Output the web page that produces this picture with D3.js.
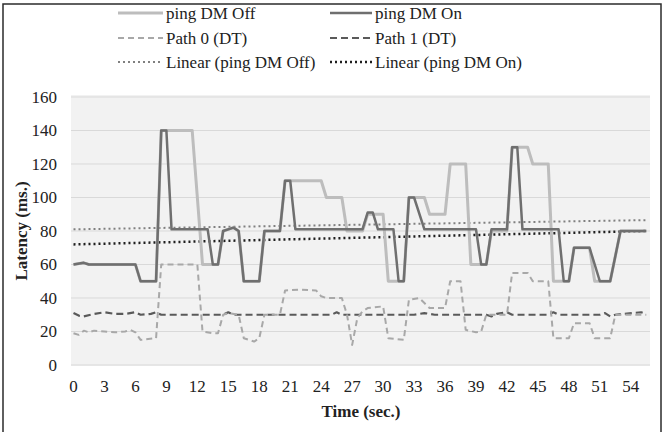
<!DOCTYPE html>
<html>
<head>
<meta charset="utf-8">
<script src="https://cdn.jsdelivr.net/npm/d3@7"></script>
<style>
html,body{margin:0;padding:0;background:#fff;}
svg{display:block;}
svg text{font-family:'Liberation Serif','Times New Roman',Times,serif;}
</style>
</head>
<body>
<svg id="chart" width="665" height="432"></svg>
<script>
// ---- data (time in seconds, latency in ms) ----
const xTicks = [0,3,6,9,12,15,18,21,24,27,30,33,36,39,42,45,48,51,54];
const yTicks = [0,20,40,60,80,100,120,140,160];

const offTime = [0,1,1.5,6,6.5,8,8.5,11.5,12.5,14,14.5,15.5,16,16.5,18,18.5,20,20.5,24,24.5,26,26.5,28,28.5,30,30.5,32,32.5,34,34.5,36,36.5,38,38.5,40,40.5,42,42.5,44,44.5,46,46.5,48,48.5,50,50.5,52,53,55.5];
const offVal  = [60,61,60,60,50,50,140,140,60,60,80,82,80,50,50,80,80,110,110,100,100,80,80,90,90,50,50,100,100,90,90,120,120,60,60,80,80,130,130,120,120,50,50,70,70,50,50,80,80];

const onTime = [0,1,1.5,6,6.5,8,8.5,9,9.5,13,13.5,14,14.5,15.5,16,16.5,18,18.5,20,20.5,21,21.5,28,28.5,29,29.5,31,31.5,32,32.5,33,34,39,39.5,40,40.5,42,42.5,43,43.5,47,47.5,48,48.5,50,51,52,53,55.5];
const onVal  = [60,61,60,60,50,50,140,140,81,81,60,60,80,82,80,50,50,80,80,110,110,81,81,91,91,81,81,50,50,100,100,81,81,60,60,81,81,130,130,81,81,50,50,70,70,50,50,80,80];

const path0Time = [0,0.5,1,1.5,2,3,4,5,5.5,6,6.5,8,8.5,12,12.5,13.5,14,14.5,15,16,16.5,17.5,18,18.5,20,20.5,22,23.5,24,24.5,26,26.5,27,27.5,28,28.5,30,30.5,32,32.5,33.5,34,34.5,36,36.5,37.5,38,39,39.5,40,42,42.5,44,44.5,46,46.5,48,48.5,50,50.5,52,52.5,55.5];
const path0Val  = [19,18,20.5,19.5,20.5,20,19.5,20,21,19.5,15,16,60,60,20,19,19,30,31,30,16,14,16,30,30,44.5,45,44.5,41,40,40,30,12,28,32,34,35,16,15,39,40,37,34,34,50,50,21,19.5,20,30,30,55,55,50,50,16,16,25,25,16,16,30,30];

const path1Time = [0,0.5,1,2,3,4,5,6,6.5,7.5,8,8.5,14.5,15,15.5,25,25.5,26,33,34,35,40,40.5,41,42,42.5,46,46.5,47,51,51.5,52,52.5,55,55.5];
const path1Val  = [31,29.5,29,30.5,31.5,30.5,30.5,31.5,30,30.5,31.5,30,30,31.5,30,30,31.5,30,30,31,30,30,29,30.5,31.5,30,30,31.5,30,30,31,29,30,31.5,30.5];

const trendTime = [0,55.5];
const trendOffVal = [81,86.5];
const trendOnVal  = [72,80];

const legendLabels = ["ping DM Off","ping DM On","Path 0 (DT)","Path 1 (DT)","Linear (ping DM Off)","Linear (ping DM On)"];

// ---- layout ----
const FONT = "'Liberation Serif','Times New Roman',Times,serif";
const svg = d3.select("#chart").attr("font-family",FONT);
const plot = {left:71, right:650, top:95, bottom:366};
const x = d3.scaleLinear().domain([0,55.5]).range([73.5,646.3]);
const y = d3.scaleLinear().domain([0,160]).range([365,97]);

// outer frame
svg.append("rect").attr("x",3).attr("y",4).attr("width",658).attr("height",450)
  .attr("fill","none").attr("stroke","#2b2b2b").attr("stroke-width",1.5);

// plot background
svg.append("rect").attr("x",plot.left).attr("y",plot.top)
  .attr("width",plot.right-plot.left).attr("height",plot.bottom-plot.top)
  .attr("fill","#f2f2f2");

// gridlines
svg.append("g").selectAll("line").data(yTicks).join("line")
  .attr("x1",plot.left).attr("x2",plot.right)
  .attr("y1",d=>y(d)).attr("y2",d=>y(d))
  .attr("stroke","#d9d9d9").attr("stroke-width",1);

// y tick labels
svg.append("g").selectAll("text").data(yTicks).join("text")
  .attr("font-family",FONT)
  .attr("x",57).attr("y",d=>y(d)).attr("dy","0.35em")
  .attr("text-anchor","end").attr("font-size",17).attr("fill","#222")
  .text(d=>d);

// x tick labels
svg.append("g").selectAll("text").data(xTicks).join("text")
  .attr("font-family",FONT)
  .attr("x",d=>x(d)).attr("y",386).attr("dy","0.35em")
  .attr("text-anchor","middle").attr("font-size",17).attr("fill","#222")
  .text(d=>d);

// axis titles
svg.append("text").attr("font-family",FONT).attr("x",361).attr("y",411).attr("dy","0.35em")
  .attr("text-anchor","middle").attr("font-size",17).attr("font-weight","bold").attr("fill","#222")
  .text("Time (sec.)");
svg.append("text").attr("font-family",FONT).attr("transform","translate(21,231) rotate(-90)").attr("dy","0.35em")
  .attr("text-anchor","middle").attr("font-size",17).attr("font-weight","bold").attr("fill","#222")
  .text("Latency (ms.)");

// series styles
const styles = [
  {stroke:"#bdbdbd", width:3,   dash:null},
  {stroke:"#6f6f6f", width:2.5, dash:null},
  {stroke:"#a8a8a8", width:2,   dash:"6,4"},
  {stroke:"#5a5a5a", width:2.2, dash:"7,4"},
  {stroke:"#808080", width:2,   dash:"2,3"},
  {stroke:"#1e1e1e", width:2.5, dash:"2,3"}
];

const zip = (ts,vs)=>ts.map((t,i)=>[t,vs[i]]);
const line = d3.line().x(d=>x(d[0])).y(d=>y(d[1]));
const series = [
  {data:zip(trendTime,trendOffVal), s:styles[4]},
  {data:zip(trendTime,trendOnVal), s:styles[5]},
  {data:zip(path1Time,path1Val), s:styles[3]},
  {data:zip(path0Time,path0Val), s:styles[2]},
  {data:zip(offTime,offVal), s:styles[0]},
  {data:zip(onTime,onVal), s:styles[1]}
];
svg.append("g").selectAll("path").data(series).join("path")
  .attr("d",d=>line(d.data)).attr("fill","none")
  .attr("stroke",d=>d.s.stroke).attr("stroke-width",d=>d.s.width)
  .attr("stroke-dasharray",d=>d.s.dash).attr("stroke-linejoin","round");

// legend
const legCols = [{lx1:118,lx2:163,tx:166},{lx1:330,lx2:372,tx:375}];
const legRows = [13,38,62];
const lg = svg.append("g");
legendLabels.forEach((lab,i)=>{
  const c = legCols[i%2], r = legRows[Math.floor(i/2)], s = styles[i];
  lg.append("line").attr("x1",c.lx1).attr("x2",c.lx2).attr("y1",r).attr("y2",r)
    .attr("stroke",s.stroke).attr("stroke-width",s.width).attr("stroke-dasharray",s.dash);
  lg.append("text").attr("font-family",FONT).attr("x",c.tx).attr("y",r).attr("dy","0.35em")
    .attr("font-size",17).attr("fill","#222").text(lab);
});
</script>
</body>
</html>
